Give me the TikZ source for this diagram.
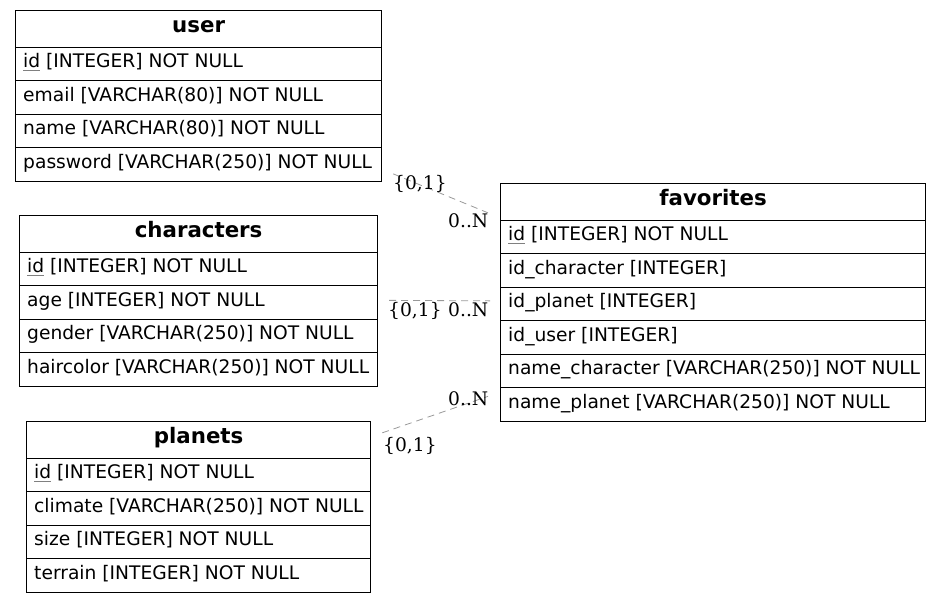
\documentclass[tikz,border=0pt]{standalone}
\usepackage{fontspec}
\setmainfont{DejaVu Sans}
\newfontfamily\lblfont{DejaVu Serif}
\usetikzlibrary{calc}
\newcommand\pk[1]{\begingroup\sbox0{#1}\rlap{\textcolor{gray}{\rule[-3pt]{\wd0}{0.7pt}}}\usebox0\endgroup}
\tikzset{
  hdr/.style={draw, line width=1.2pt, minimum height=36.5pt, inner sep=0pt, anchor=north west,
    text height=14pt, text depth=6pt,
    font=\fontsize{21.33}{25}\selectfont\bfseries},
  rowbox/.style={draw, line width=1.2pt, minimum height=33.5pt, inner sep=0pt, anchor=north west},
  rowtext/.style={anchor=base west, inner sep=0pt, font=\fontsize{18.67}{22}\selectfont},
  rel/.style={draw=gray!80, line width=0.8pt, dash pattern=on 7pt off 5pt},
  card/.style={anchor=base west, inner sep=0pt, font=\lblfont\fontsize{18.67}{22}\selectfont}
}
\newcommand\erdtab[6]{%
  \node[hdr, minimum width=#4pt] (#1) at (#2,#3) {#5};
  \foreach \r [count=\i] in {#6} {
    \node[rowbox, minimum width=#4pt] (#1-\i) at (#2,{#3+36.5+(\i-1)*33.5}) {};
    \node[rowtext] (#1-\i-t) at ($(#1-\i.north west)+(8,21)$) {\r};
  }%
}
\begin{document}
\begin{tikzpicture}[x=1pt,y=-1pt]
\useasboundingbox (0,0) rectangle (941,603);
\erdtab{user}{15}{10}{366}{user}{\pk{id} [INTEGER] NOT NULL, email [VARCHAR(80)] NOT NULL, name [VARCHAR(80)] NOT NULL, password [VARCHAR(250)] NOT NULL}
\erdtab{characters}{19}{215}{358}{characters}{\pk{id} [INTEGER] NOT NULL, age [INTEGER] NOT NULL, gender [VARCHAR(250)] NOT NULL, haircolor [VARCHAR(250)] NOT NULL}
\erdtab{planets}{26}{421}{344}{planets}{\pk{id} [INTEGER] NOT NULL, climate [VARCHAR(250)] NOT NULL, size [INTEGER] NOT NULL, terrain [INTEGER] NOT NULL}
\erdtab{favorites}{500}{183}{425}{favorites}{\pk{id} [INTEGER] NOT NULL, id\_character [INTEGER], id\_planet [INTEGER], id\_user [INTEGER], name\_character [VARCHAR(250)] NOT NULL, name\_planet [VARCHAR(250)] NOT NULL}

% connector end points
\coordinate (u0) at ($(user-4.east)+(11,9.5)$);
\coordinate (u1) at ($(favorites.west)+(-12,11)$);
\coordinate (c0) at ($(characters-2.east)+(11,-2)$);
\coordinate (c1) at ($(favorites-3.west)+(-10,-3)$);
\coordinate (p0) at ($(planets.east)+(11,-7)$);
\coordinate (p1) at ($(favorites-6.west)+(-12,-8)$);
\draw[rel] (u0) -- (u1);
\draw[rel] (c0) -- (c1);
\draw[rel] (p0) -- (p1);

\node[card] (lu0) at (393,189) {\{0,1\}};
\node[card] (lu1) at (448,227) {0..N};
\node[card] (lc0) at (388,316) {\{0,1\}};
\node[card] (lc1) at (448,316) {0..N};
\node[card] (lp1) at (448,405) {0..N};
\node[card] (lp0) at (383,451) {\{0,1\}};
\end{tikzpicture}
\end{document}
